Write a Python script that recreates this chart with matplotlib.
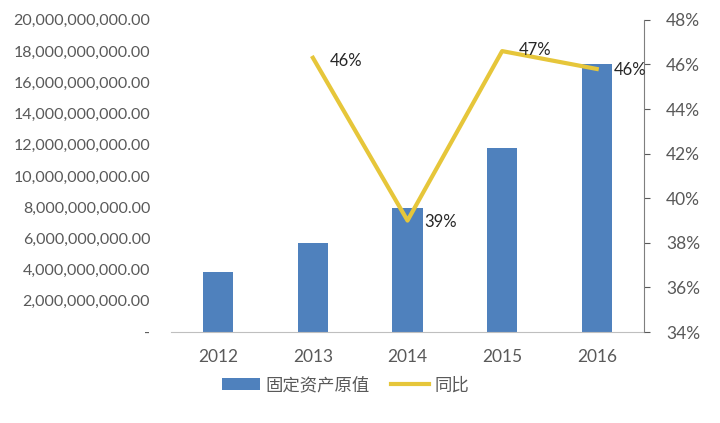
import numpy as np
import matplotlib.pyplot as plt
from matplotlib.ticker import FuncFormatter

plt.rcParams['font.family'] = ['Lato', 'Noto Sans CJK SC', 'DejaVu Sans']

years = ['2012', '2013', '2014', '2015', '2016']
asset_values = [3.85e9, 5.7e9, 7.95e9, 11.8e9, 17.2e9]
yoy_years = ['2013', '2014', '2015', '2016']
yoy_rates = [46.3, 39.0, 46.6, 45.8]
yoy_labels = ['46%', '39%', '47%', '46%']

bar_colour = '#4F81BD'
line_colour = '#E6C63A'
text_grey = '#595959'
axis_grey = '#BFBFBF'

fig = plt.figure(figsize=(7.2, 4.23), dpi=100)
ax = fig.add_axes([0.2375, 0.215, 0.657, 0.738])
x = np.arange(len(years))
ax.bar(x, asset_values, width=0.32, color=bar_colour, label='固定资产原值', zorder=2)
ax.set_xlim(-0.5, len(years) - 0.5)
ax.set_ylim(0, 20e9)
ax.set_yticks(np.arange(0, 20e9 + 1, 2e9))
ax.yaxis.set_major_formatter(FuncFormatter(lambda v, p: '-' if v == 0 else '{:,.2f}'.format(v)))
ax.set_xticks(x)
ax.set_xticklabels(years)
ax.tick_params(axis='y', length=0, labelsize=11.5, colors=text_grey, pad=15)
ax.tick_params(axis='x', length=0, labelsize=12.5, colors=text_grey, pad=12)
for s in ['top', 'right', 'left']:
    ax.spines[s].set_visible(False)
ax.spines['bottom'].set_color(axis_grey)

ax2 = ax.twinx()
xi = [years.index(y) for y in yoy_years]
ax2.plot(xi, yoy_rates, color=line_colour, lw=3, label='同比', zorder=3)
ax2.set_ylim(34, 48)
ax2.set_yticks(np.arange(34, 49, 2))
ax2.yaxis.set_major_formatter(FuncFormatter(lambda v, p: '%d%%' % v))
ax2.tick_params(axis='y', length=4, labelsize=12.5, colors=text_grey, pad=12)
for s in ['top', 'left', 'bottom']:
    ax2.spines[s].set_visible(False)
ax2.spines['right'].set_color('#7F7F7F')

offsets = [(12, -2), (12, -1), (12, 1), (12, -1)]
for xx, yy, lab, off in zip(xi, yoy_rates, yoy_labels, offsets):
    ax2.annotate(lab, (xx, yy), xytext=off, textcoords='offset points',
                 fontsize=12, color='#262626', ha='left', va='center')

h1, l1 = ax.get_legend_handles_labels()
h2, l2 = ax2.get_legend_handles_labels()
fig.legend(h1 + h2, l1 + l2, loc='center', bbox_to_anchor=(0.48, 0.09), ncol=2,
           frameon=False, fontsize=12.5, labelcolor=text_grey, handlelength=2.2,
           columnspacing=1.2, handletextpad=0.3)

fig.savefig('out.png', dpi=100)
